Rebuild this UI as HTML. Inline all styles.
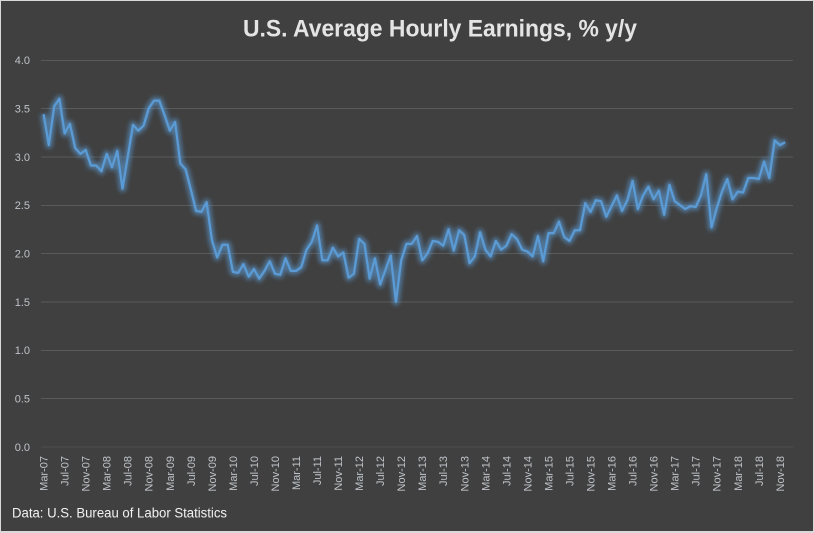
<!DOCTYPE html>
<html>
<head>
<meta charset="utf-8">
<style>
html,body{margin:0;padding:0;background:#d9d9d9;}
body{width:814px;height:533px;overflow:hidden;position:relative;}
svg{position:absolute;left:0;top:0;}
</style>
</head>
<body>
<svg width="814" height="533" viewBox="0 0 814 533" xmlns="http://www.w3.org/2000/svg">
<defs>
<filter id="glow" x="-10%" y="-10%" width="120%" height="120%">
<feGaussianBlur stdDeviation="2.0"/>
</filter>
</defs>
<rect x="0" y="0" width="814" height="533" fill="#d9d9d9"/>
<rect x="1" y="1" width="812" height="530" fill="#404040"/>

<!-- gridlines -->
<g stroke="#5a5a5a" stroke-width="1">
<line x1="41" x2="793" y1="60.5" y2="60.5"/>
<line x1="41" x2="793" y1="108.5" y2="108.5"/>
<line x1="41" x2="793" y1="157" y2="157"/>
<line x1="41" x2="793" y1="205.5" y2="205.5"/>
<line x1="41" x2="793" y1="253.5" y2="253.5"/>
<line x1="41" x2="793" y1="302" y2="302"/>
<line x1="41" x2="793" y1="350.5" y2="350.5"/>
<line x1="41" x2="793" y1="398.5" y2="398.5"/>
<line x1="41" x2="793" y1="447" y2="447" stroke="#4e4e4e"/>
</g>

<!-- y labels -->
<g font-family="Liberation Sans, sans-serif" font-size="11" fill="#bfc3c8" text-anchor="end">
<text x="30" y="64">4.0</text>
<text x="30" y="112.5">3.5</text>
<text x="30" y="161">3.0</text>
<text x="30" y="209">2.5</text>
<text x="30" y="257.5">2.0</text>
<text x="30" y="306">1.5</text>
<text x="30" y="354">1.0</text>
<text x="30" y="402.5">0.5</text>
<text x="30" y="451">0.0</text>
</g>

<!-- series glow -->
<g filter="url(#glow)" opacity="0.6">
<polyline fill="none" stroke="#5b9bd5" stroke-width="7" stroke-linejoin="round" vector-effect="non-scaling-stroke" transform="translate(43.6,447) scale(5.259,-96.75)" points="0,3.44 1,3.12 2,3.52 3,3.60 4,3.24 5,3.34 6,3.09 7,3.03 8,3.07 9,2.91 10,2.91 11,2.85 12,3.03 13,2.89 14,3.06 15,2.67 16,3.00 17,3.33 18,3.27 19,3.32 20,3.50 21,3.58 22,3.58 23,3.43 24,3.27 25,3.36 26,2.93 27,2.87 28,2.66 29,2.44 30,2.43 31,2.53 32,2.14 33,1.96 34,2.09 35,2.09 36,1.81 37,1.80 38,1.89 39,1.76 40,1.84 41,1.74 42,1.82 43,1.92 44,1.79 45,1.78 46,1.95 47,1.82 48,1.82 49,1.86 50,2.04 51,2.12 52,2.29 53,1.93 54,1.93 55,2.06 56,1.97 57,2.01 58,1.75 59,1.79 60,2.15 61,2.10 62,1.74 63,1.95 64,1.68 65,1.83 66,1.98 67,1.50 68,1.93 69,2.10 70,2.10 71,2.18 72,1.93 73,2.00 74,2.13 75,2.12 76,2.08 77,2.25 78,2.03 79,2.24 80,2.19 81,1.90 82,1.97 83,2.22 84,2.04 85,1.97 86,2.13 87,2.04 88,2.08 89,2.20 90,2.15 91,2.04 92,2.02 93,1.97 94,2.18 95,1.92 96,2.21 97,2.21 98,2.33 99,2.17 100,2.13 101,2.24 102,2.24 103,2.52 104,2.43 105,2.55 106,2.54 107,2.38 108,2.49 109,2.60 110,2.44 111,2.55 112,2.75 113,2.46 114,2.60 115,2.69 116,2.56 117,2.65 118,2.40 119,2.71 120,2.54 121,2.50 122,2.46 123,2.49 124,2.48 125,2.60 126,2.82 127,2.27 128,2.47 129,2.64 130,2.77 131,2.56 132,2.64 133,2.63 134,2.78 135,2.78 136,2.77 137,2.95 138,2.78 139,3.17 140,3.12 141,3.15"/>
</g>
<!-- series line -->
<polyline fill="none" stroke="#5b9bd5" stroke-width="2.25" stroke-linejoin="round" vector-effect="non-scaling-stroke" transform="translate(43.6,447) scale(5.259,-96.75)" points="0,3.44 1,3.12 2,3.52 3,3.60 4,3.24 5,3.34 6,3.09 7,3.03 8,3.07 9,2.91 10,2.91 11,2.85 12,3.03 13,2.89 14,3.06 15,2.67 16,3.00 17,3.33 18,3.27 19,3.32 20,3.50 21,3.58 22,3.58 23,3.43 24,3.27 25,3.36 26,2.93 27,2.87 28,2.66 29,2.44 30,2.43 31,2.53 32,2.14 33,1.96 34,2.09 35,2.09 36,1.81 37,1.80 38,1.89 39,1.76 40,1.84 41,1.74 42,1.82 43,1.92 44,1.79 45,1.78 46,1.95 47,1.82 48,1.82 49,1.86 50,2.04 51,2.12 52,2.29 53,1.93 54,1.93 55,2.06 56,1.97 57,2.01 58,1.75 59,1.79 60,2.15 61,2.10 62,1.74 63,1.95 64,1.68 65,1.83 66,1.98 67,1.50 68,1.93 69,2.10 70,2.10 71,2.18 72,1.93 73,2.00 74,2.13 75,2.12 76,2.08 77,2.25 78,2.03 79,2.24 80,2.19 81,1.90 82,1.97 83,2.22 84,2.04 85,1.97 86,2.13 87,2.04 88,2.08 89,2.20 90,2.15 91,2.04 92,2.02 93,1.97 94,2.18 95,1.92 96,2.21 97,2.21 98,2.33 99,2.17 100,2.13 101,2.24 102,2.24 103,2.52 104,2.43 105,2.55 106,2.54 107,2.38 108,2.49 109,2.60 110,2.44 111,2.55 112,2.75 113,2.46 114,2.60 115,2.69 116,2.56 117,2.65 118,2.40 119,2.71 120,2.54 121,2.50 122,2.46 123,2.49 124,2.48 125,2.60 126,2.82 127,2.27 128,2.47 129,2.64 130,2.77 131,2.56 132,2.64 133,2.63 134,2.78 135,2.78 136,2.77 137,2.95 138,2.78 139,3.17 140,3.12 141,3.15"/>

<!-- x labels -->
<g font-family="Liberation Sans, sans-serif" font-size="11" fill="#bfc3c8" text-anchor="end">
<text transform="translate(43.6,456) rotate(-90)" dy="0.36em">Mar-07</text>
<text transform="translate(64.64,456) rotate(-90)" dy="0.36em">Jul-07</text>
<text transform="translate(85.67,456) rotate(-90)" dy="0.36em">Nov-07</text>
<text transform="translate(106.71,456) rotate(-90)" dy="0.36em">Mar-08</text>
<text transform="translate(127.74,456) rotate(-90)" dy="0.36em">Jul-08</text>
<text transform="translate(148.78,456) rotate(-90)" dy="0.36em">Nov-08</text>
<text transform="translate(169.82,456) rotate(-90)" dy="0.36em">Mar-09</text>
<text transform="translate(190.85,456) rotate(-90)" dy="0.36em">Jul-09</text>
<text transform="translate(211.89,456) rotate(-90)" dy="0.36em">Nov-09</text>
<text transform="translate(232.92,456) rotate(-90)" dy="0.36em">Mar-10</text>
<text transform="translate(253.96,456) rotate(-90)" dy="0.36em">Jul-10</text>
<text transform="translate(275.0,456) rotate(-90)" dy="0.36em">Nov-10</text>
<text transform="translate(296.03,456) rotate(-90)" dy="0.36em">Mar-11</text>
<text transform="translate(317.07,456) rotate(-90)" dy="0.36em">Jul-11</text>
<text transform="translate(338.1,456) rotate(-90)" dy="0.36em">Nov-11</text>
<text transform="translate(359.14,456) rotate(-90)" dy="0.36em">Mar-12</text>
<text transform="translate(380.18,456) rotate(-90)" dy="0.36em">Jul-12</text>
<text transform="translate(401.21,456) rotate(-90)" dy="0.36em">Nov-12</text>
<text transform="translate(422.25,456) rotate(-90)" dy="0.36em">Mar-13</text>
<text transform="translate(443.28,456) rotate(-90)" dy="0.36em">Jul-13</text>
<text transform="translate(464.32,456) rotate(-90)" dy="0.36em">Nov-13</text>
<text transform="translate(485.36,456) rotate(-90)" dy="0.36em">Mar-14</text>
<text transform="translate(506.39,456) rotate(-90)" dy="0.36em">Jul-14</text>
<text transform="translate(527.43,456) rotate(-90)" dy="0.36em">Nov-14</text>
<text transform="translate(548.46,456) rotate(-90)" dy="0.36em">Mar-15</text>
<text transform="translate(569.5,456) rotate(-90)" dy="0.36em">Jul-15</text>
<text transform="translate(590.54,456) rotate(-90)" dy="0.36em">Nov-15</text>
<text transform="translate(611.57,456) rotate(-90)" dy="0.36em">Mar-16</text>
<text transform="translate(632.61,456) rotate(-90)" dy="0.36em">Jul-16</text>
<text transform="translate(653.64,456) rotate(-90)" dy="0.36em">Nov-16</text>
<text transform="translate(674.68,456) rotate(-90)" dy="0.36em">Mar-17</text>
<text transform="translate(695.72,456) rotate(-90)" dy="0.36em">Jul-17</text>
<text transform="translate(716.75,456) rotate(-90)" dy="0.36em">Nov-17</text>
<text transform="translate(737.79,456) rotate(-90)" dy="0.36em">Mar-18</text>
<text transform="translate(758.82,456) rotate(-90)" dy="0.36em">Jul-18</text>
<text transform="translate(779.86,456) rotate(-90)" dy="0.36em">Nov-18</text>
</g>

<!-- title -->
<text x="243" y="36.5" font-family="Liberation Sans, sans-serif" font-size="24" font-weight="bold" fill="#e4e4e4" textLength="394" lengthAdjust="spacingAndGlyphs">U.S. Average Hourly Earnings, % y/y</text>

<!-- footer -->
<text x="12" y="517.5" font-family="Liberation Sans, sans-serif" font-size="13.5" fill="#f2f2f2" textLength="215" lengthAdjust="spacingAndGlyphs">Data: U.S. Bureau of Labor Statistics</text>
</svg>
</body>
</html>
